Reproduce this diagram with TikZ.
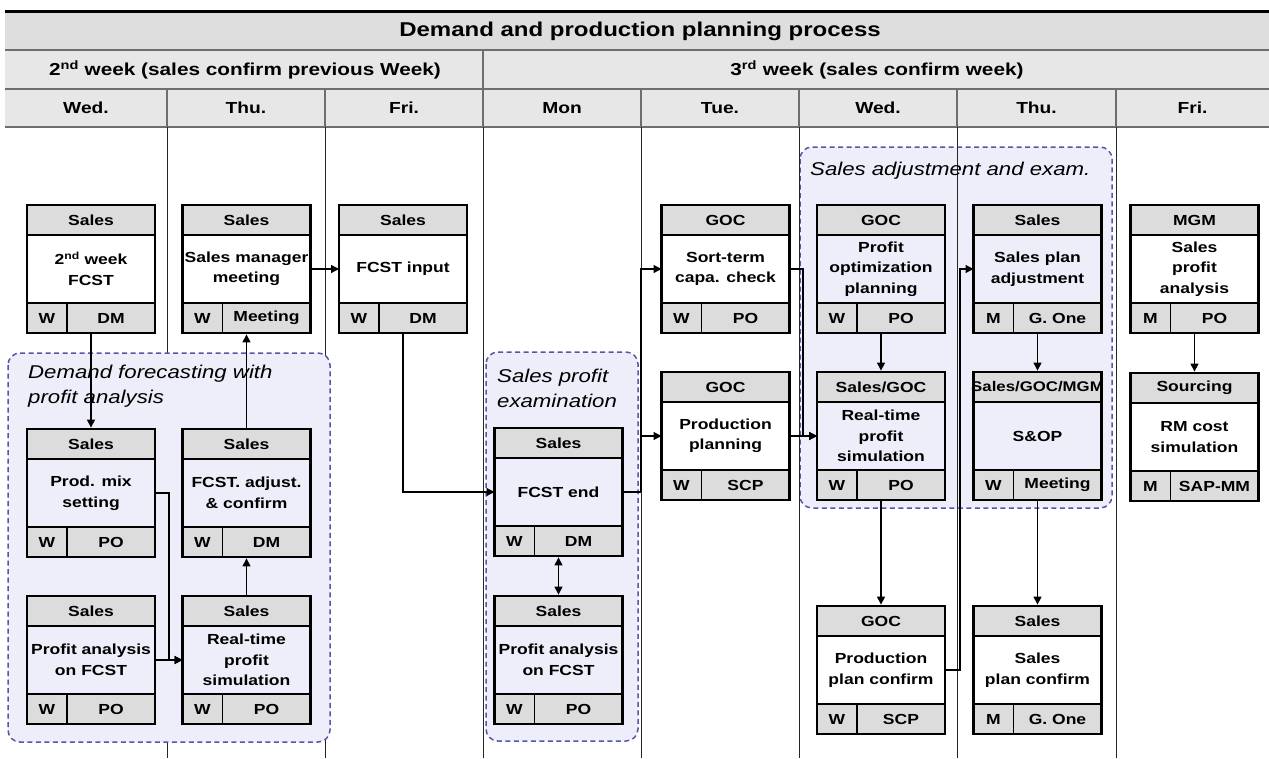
\documentclass[tikz,border=0pt]{standalone}
\usepackage{fontspec}
\setmainfont{Liberation Sans}[FakeStretch=1.2]
\usetikzlibrary{arrows.meta,calc,fit}

\definecolor{cellgray}{HTML}{DCDCDC}
\definecolor{bandgray}{HTML}{E7E7E7}
\definecolor{titlegray}{HTML}{DEDEDE}
\definecolor{rulegray}{HTML}{6E6E6E}
\definecolor{groupfill}{HTML}{EEEEFA}
\definecolor{groupline}{HTML}{5555AA}

\tikzset{
  boxfont/.style={font=\bfseries\fontsize{14.6}{20.5}\selectfont},
  headcell/.style={draw, fill=cellgray, line width=1.5pt, minimum width=128, minimum height=30,
    inner sep=0, outer sep=0, anchor=north, boxfont},
  bodycell/.style={draw, line width=1.5pt, minimum width=128, minimum height=68,
    inner sep=0, outer sep=0, align=center, anchor=north, boxfont},
  tagcell/.style={draw, fill=cellgray, line width=1.5pt, minimum height=30,
    inner sep=0, outer sep=0, anchor=north west, boxfont},
  boxframe/.style={draw, line width=2.8pt, inner sep=0},
  link/.style={line width=1.2pt, -{Triangle[length=8pt,width=8pt]}},
  twolink/.style={line width=1.2pt, {Triangle[length=8pt,width=8pt]}-{Triangle[length=8pt,width=8pt]}},
  plainlink/.style={line width=1.2pt},
  group/.style={draw=groupline, fill=groupfill, line width=1.5pt, dash pattern=on 5pt off 3.5pt,
    rounded corners=12pt},
  grouptitle/.style={font=\itshape\fontsize{18.5}{25}\selectfont, align=left, inner sep=0},
  colrule/.style={line width=0.9pt, black!85},
  bandrule/.style={line width=1.3pt, rulegray},
  titlefont/.style={font=\bfseries\fontsize{20}{24}\selectfont, inner sep=0},
  weekfont/.style={font=\bfseries\fontsize{17.3}{20}\selectfont, inner sep=0},
  dayfont/.style={font=\bfseries\fontsize{16}{20}\selectfont, inner sep=0},
}

% process box: name, centre x, top y, owner, task, cycle, system
\newcommand{\procbox}[7]{%
  \node[headcell] (#1-h) at (#2,#3) {#4};
  \node[bodycell] (#1-b) at (#1-h.south) {#5};
  \node[tagcell, minimum width=40] (#1-w) at (#1-b.south west) {#6};
  \node[tagcell, minimum width=88] (#1-s) at (#1-w.north east) {#7};
  \node[boxframe, fit=(#1-h)(#1-w)(#1-s)] (#1) {};
}

\begin{document}
\begin{tikzpicture}[x=1pt, y=-1pt]
\useasboundingbox (0,0) rectangle (1269,758);
\fill[white] (0,0) rectangle (1269,758);

% header table
\fill[titlegray] (5,11) rectangle (1269,50);
\fill[bandgray] (5,50) rectangle (1269,127);
\draw[line width=3pt] (5,11) -- (1269,11);
\draw[bandrule] (5,50) -- (1269,50) (5,89) -- (1269,89) (5,127) -- (1269,127);
\draw[bandrule] (483,50) -- (483,89);
\foreach \cx in {167,325,483,641,799,957,1116}
  \draw[bandrule] (\cx,89) -- (\cx,127);

\node[titlefont] (title) at (640,31) {Demand and production planning process};
\node[weekfont] (week2) at (245,70) {2\textsuperscript{nd} week (sales confirm previous Week)};
\node[weekfont] (week3) at (877,70) {3\textsuperscript{rd} week (sales confirm week)};
\node[dayfont] (d1) at (86,108) {Wed.};
\node[dayfont] (d2) at (246,108) {Thu.};
\node[dayfont] (d3) at (404,108) {Fri.};
\node[dayfont] (d4) at (562,108) {Mon};
\node[dayfont] (d5) at (720,108) {Tue.};
\node[dayfont] (d6) at (878,108) {Wed.};
\node[dayfont] (d7) at (1036.5,108) {Thu.};
\node[dayfont] (d8) at (1192.5,108) {Fri.};

% sales adjustment group sits under the day rules
\draw[group] (800,147) rectangle (1112,508);

% day column rules
\foreach \cx in {167,325,483,641,799,957,1116}
  \draw[colrule] (\cx,127) -- (\cx,758);

% remaining groups
\draw[group] (8,353) rectangle (330,742);
\draw[group] (486,352) rectangle (638,741);

\node[grouptitle, anchor=north west] (g1) at (28,364.5) {Demand forecasting with\\profit analysis};
\node[grouptitle, anchor=north west] (g2) at (497,368.5) {Sales profit\\examination};
\node[grouptitle, anchor=base west] (g3) at (810,175) {Sales adjustment and exam.};

% process boxes
\procbox{wkfcst}{91}{205}{Sales}{2\textsuperscript{nd} week\\FCST}{W}{DM}
\procbox{smm}{246.5}{205}{Sales}{Sales manager\\meeting}{W}{Meeting}
\procbox{fcstin}{403}{205}{Sales}{FCST input}{W}{DM}
\procbox{prodmix}{91}{429}{Sales}{Prod. mix\\setting}{W}{PO}
\procbox{fcstadj}{246.5}{429}{Sales}{FCST. adjust.\\\& confirm}{W}{DM}
\procbox{profanA}{91}{596}{Sales}{Profit analysis\\on FCST}{W}{PO}
\procbox{rtsimA}{246.5}{596}{Sales}{Real-time\\profit\\simulation}{W}{PO}
\procbox{fcstend}{558.5}{428}{Sales}{FCST end}{W}{DM}
\procbox{profanB}{558.5}{596}{Sales}{Profit analysis\\on FCST}{W}{PO}
\procbox{sortterm}{725.5}{205}{GOC}{Sort-term\\capa. check}{W}{PO}
\procbox{prodplan}{725.5}{372}{GOC}{Production\\planning}{W}{SCP}
\procbox{profopt}{881}{205}{GOC}{Profit\\optimization\\planning}{W}{PO}
\procbox{rtsimB}{881}{372}{Sales/GOC}{Real-time\\profit\\simulation}{W}{PO}
\procbox{ppconf}{881}{606}{GOC}{Production\\plan confirm}{W}{SCP}
\procbox{spadj}{1037.5}{205}{Sales}{Sales plan\\adjustment}{M}{G. One}
\procbox{sop}{1037.5}{372}{\makebox[0pt]{\fontsize{14}{20}\selectfont Sales/GOC/MGM}}{S\&OP}{W}{Meeting}
\procbox{spconf}{1037.5}{606}{Sales}{Sales\\plan confirm}{M}{G. One}
\procbox{mgm}{1194.5}{205}{MGM}{Sales\\profit\\analysis}{M}{PO}
\procbox{sourcing}{1194.5}{373}{Sourcing}{RM cost\\simulation}{M}{SAP-MM}

% connectors
\draw[link] (wkfcst.south) -- (prodmix.north);
\draw[link] (prodmix-b.east) -- ++(14,0) |- (rtsimA-b.west);
\draw[link] (profanA-b.east) -- (rtsimA-b.west);
\draw[link] (rtsimA.north) -- (fcstadj.south);
\draw[link] (fcstadj.north) -- (smm.south);
\draw[link] (smm-b.east) -- (fcstin-b.west);
\draw[link] (fcstin.south) |- (fcstend-b.west);

\coordinate (split) at ($(fcstend-b.east)+(18.5,0)$);
\draw[plainlink] (fcstend-b.east) -- (split);
\draw[link] (split) |- (sortterm-b.west);
\draw[link] (split) |- (prodplan-b.west);
\draw[twolink] (fcstend.south) -- (profanB.north);

\draw[link] (sortterm-b.east) -- ++(13.5,0) |- (rtsimB-b.west);
\draw[link] (prodplan-b.east) -- (rtsimB-b.west);
\draw[link] (profopt.south) -- (rtsimB.north);
\draw[link] (rtsimB.south) -- (ppconf.north);
\draw[link] (ppconf-b.east) -- ++(15,0) |- (spadj-b.west);
\draw[link] (spadj.south) -- (sop.north);
\draw[link] (sop.south) -- (spconf.north);
\draw[link] (mgm.south) -- (sourcing.north);
\end{tikzpicture}
\end{document}
